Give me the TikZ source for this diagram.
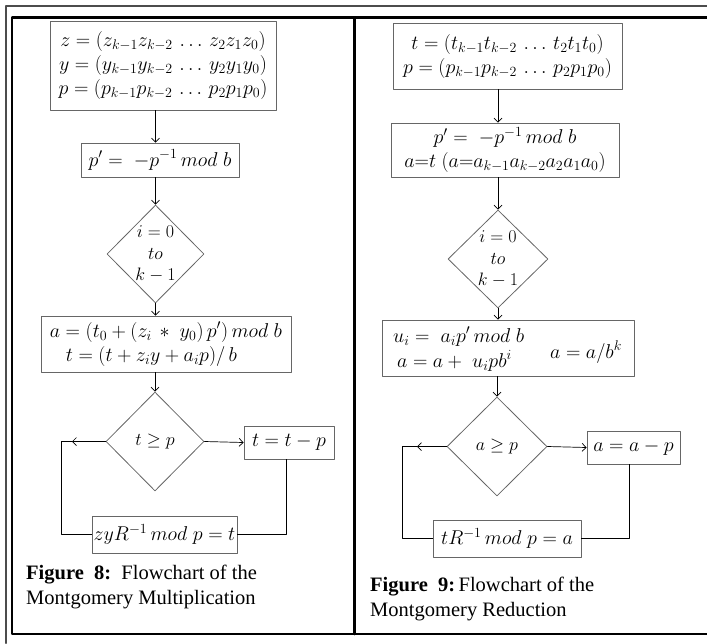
\documentclass[tikz,border=0pt]{standalone}
\usepackage{fix-cm}
\usepackage{amsmath,amssymb}
\usepackage{fontspec}
\setmainfont{Liberation Serif}
\usetikzlibrary{shapes.geometric,arrows.meta,calc}

\begin{document}
\begin{tikzpicture}[x=1pt,y=-1pt,line cap=round,line join=round,
  box/.style={draw=black!60,line width=0.8pt,inner sep=0pt,align=center,font=\fontsize{20}{24}\selectfont},
  choice/.style={diamond,draw=black!60,line width=0.8pt,inner sep=0pt,align=center,font=\fontsize{18}{21.5}\selectfont},
  term/.style={anchor=base west,inner sep=0pt,font=\fontsize{20}{24}\selectfont},
  flow/.style={line width=0.7pt,-{Straight Barb[length=4pt,width=8pt]}},
  link/.style={line width=0.7pt},
  caption/.style={anchor=north west,align=left,inner sep=0pt,font=\fontsize{20.5}{25}\selectfont}]
\useasboundingbox (0,0) rectangle (707,643);
% frame
\draw[line width=2pt,black!70] (5.5,643) -- (5.5,5.5) -- (707,5.5);
\draw[line width=2.5pt] (707,634) -- (12,634) -- (12,17.5) -- (707,17.5);
\draw[line width=2.5pt] (354.5,17.5) -- (354.5,634);

% multiplication
\node[box,minimum width=226pt,minimum height=89pt] (zyp) at (163,65.5)
  {$z = (z_{k-1}z_{k-2}\,\ldots\,z_2z_1z_0)$\\ $y = (y_{k-1}y_{k-2}\,\ldots\,y_2y_1y_0)$\\ $p = (p_{k-1}p_{k-2}\,\ldots\,p_2p_1p_0)$};
\node[box,minimum width=158pt,minimum height=34pt] (pinv) at (160,160) {$p' = \;-p^{-1}\,mod\;b$};
\node[choice,minimum width=97pt,minimum height=98pt] (iloop) at (155.5,254) {$i=0$\\ $to$\\ $k-1$};
\node[box,align=left,minimum width=250pt,minimum height=56pt] (upd) at (166,344)
  {$a = (t_0 + (z_i\,*\;y_0)\,p')\,mod\;b$\\ \hspace{16pt}$t = (t + z_iy + a_ip)/\,b$};
\node[choice,minimum width=98pt,minimum height=99pt] (tcmp) at (155,441.5) {$t \geq p$};
\node[box,minimum width=90pt,minimum height=33pt] (tsub) at (289,442.5) {$t = t - p$};
\node[box,minimum width=145pt,minimum height=37pt] (res1) at (164.5,534.5) {$zyR^{-1}\,mod\;p = t$};
\coordinate (lt) at (72,441.5);
\coordinate (lx) at (61,441.5);
\coordinate (rx) at (286,534.5);
\draw[flow] (zyp.south -| iloop) -- (pinv.north -| iloop);
\draw[flow] (pinv.south -| iloop) -- (iloop.north);
\draw[flow] (iloop.south) -- (upd.north -| iloop);
\draw[flow] (upd.south -| tcmp) -- (tcmp.north);
\draw[flow] (tcmp.east) -- (tsub.west);
\draw[flow] (tcmp.west) -- (lt);
\draw[link] (lt) -- (lx) |- (res1.west);
\draw[link] (tsub.south -| rx) |- (res1.east);
\node[caption] (cap1) at (26,565) {\textbf{Figure\ \ 8:}\ \ Flowchart of the\\Montgomery Multiplication};

% reduction
\node[box,minimum width=229pt,minimum height=66pt] (tp) at (507.5,56)
  {$t = (t_{k-1}t_{k-2}\,\ldots\,t_2t_1t_0)$\\ $p = (p_{k-1}p_{k-2}\,\ldots\,p_2p_1p_0)$};
\node[box,minimum width=228pt,minimum height=54pt] (pinv2) at (505,150)
  {$p' = \;-p^{-1}\,mod\;b$\\ $a{=}t\;(a{=}a_{k-1}a_{k-2}a_2a_1a_0)$};
\node[choice,minimum width=100pt,minimum height=98pt] (iloop2) at (498,259) {$i=0$\\ $to$\\ $k-1$};
\node[box,minimum width=252pt,minimum height=56pt] (red) at (508,348) {};
\node[term] (ui) at (393,342) {$u_i = \; a_ip'\,mod\;b$};
\node[term] (acc) at (397,367) {$a = a + \;u_ipb^i$};
\node[term] (shift) at (550,358) {$a = a/b^k$};
\node[choice,minimum width=100pt,minimum height=99pt] (acmp) at (497,446.5) {$a \geq p$};
\node[box,minimum width=93pt,minimum height=33pt] (asub) at (633.5,447.5) {$a = a - p$};
\node[box,minimum width=148pt,minimum height=37pt] (res2) at (507,538.5) {$tR^{-1}\,mod\;p = a$};
\coordinate (lt2) at (417,446.5);
\coordinate (lx2) at (402,446.5);
\coordinate (rx2) at (629,538.5);
\draw[flow] (tp.south -| iloop2) -- (pinv2.north -| iloop2);
\draw[flow] (pinv2.south -| iloop2) -- (iloop2.north);
\draw[flow] (iloop2.south) -- (red.north -| iloop2);
\draw[flow] (red.south -| acmp) -- (acmp.north);
\draw[flow] (acmp.east) -- (asub.west);
\draw[flow] (acmp.west) -- (lt2);
\draw[link] (lt2) -- (lx2) |- (res2.west);
\draw[link] (asub.south -| rx2) |- (res2.east);
\node[caption] (cap2) at (370,577) {\textbf{Figure\ \ 9:}\,Flowchart of the\\Montgomery Reduction};
\end{tikzpicture}
\end{document}
